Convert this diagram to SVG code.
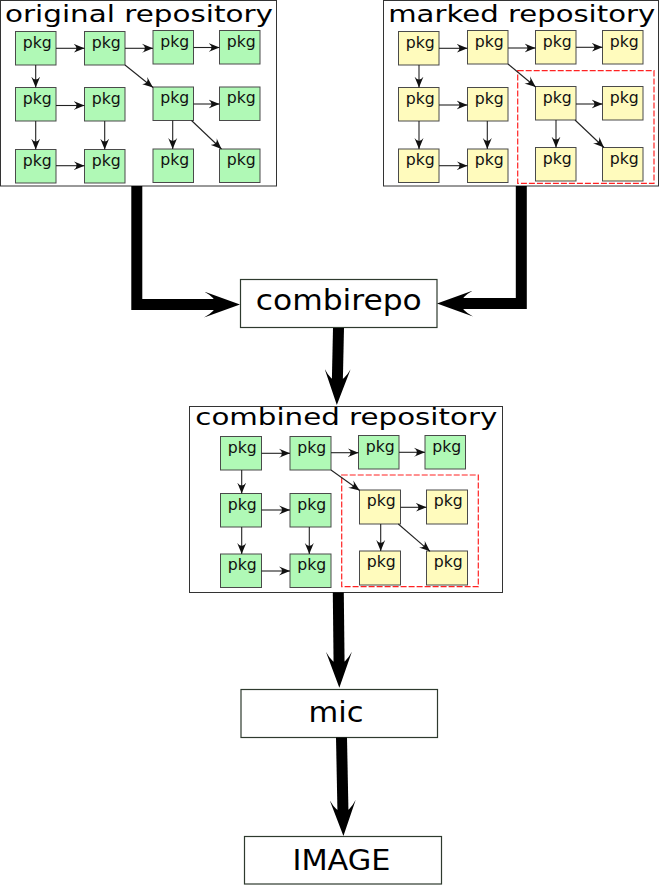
<svg xmlns="http://www.w3.org/2000/svg" width="660" height="885" viewBox="0 0 660 885">
<defs>
<style>
.repo{fill:#fff;stroke:#333;stroke-width:1}
.box{fill:#fff;stroke:#2e3a2e;stroke-width:1.2}
.pg{fill:#b0f9b6;stroke:#4a4a4a;stroke-width:1}
.py{fill:#fffbbd;stroke:#4a4a4a;stroke-width:1}
text{font-family:"DejaVu Sans","Liberation Sans",sans-serif;fill:#000;text-anchor:middle}
.pt{font-size:15px;fill:#111}
.title{font-size:23px}
.big{font-size:28px}
.edge{fill:none;stroke:#222;stroke-width:1.1;marker-end:url(#sm)}
.flow{fill:none;stroke:#000;stroke-width:11;marker-end:url(#bg)}
.mark{fill:none;stroke:#f22;stroke-width:1.2;stroke-dasharray:6 2}
</style>
<marker id="sm" viewBox="0 -5 11 10" markerWidth="11" markerHeight="10" refX="11" refY="0" orient="auto" markerUnits="userSpaceOnUse">
<path d="M0,-4.5 L11,0 L0,4.5 Q6,0 0,-4.5 Z" fill="#111"/>
</marker>
<marker id="bg" viewBox="0 -13 36 26" markerWidth="36" markerHeight="26" refX="14" refY="0" orient="auto" markerUnits="userSpaceOnUse">
<path d="M0,-13 L36,0 L0,13 Q24,0 0,-13 Z" fill="#000"/>
</marker>
</defs>

<g id="original-repository">
<rect class="repo" x="0.5" y="0.5" width="276" height="185.5"/>
<text class="title" x="139" y="21.5" textLength="268" lengthAdjust="spacingAndGlyphs">original repository</text>
<g id="o11"><rect class="pg" x="15.5" y="31.5" width="40.5" height="33.5"/><text class="pt" x="37.3" y="47.5" textLength="29" lengthAdjust="spacingAndGlyphs">pkg</text></g>
<g id="o12"><rect class="pg" x="84.5" y="31.5" width="40.5" height="33.5"/><text class="pt" x="106.3" y="47.5" textLength="29" lengthAdjust="spacingAndGlyphs">pkg</text></g>
<g id="o13"><rect class="pg" x="153" y="30.5" width="40.5" height="33.5"/><text class="pt" x="174.8" y="46.5" textLength="29" lengthAdjust="spacingAndGlyphs">pkg</text></g>
<g id="o14"><rect class="pg" x="219.5" y="30.5" width="40.5" height="33.5"/><text class="pt" x="241.3" y="46.5" textLength="29" lengthAdjust="spacingAndGlyphs">pkg</text></g>
<g id="o21"><rect class="pg" x="15.5" y="87.5" width="40.5" height="33.5"/><text class="pt" x="37.3" y="103.5" textLength="29" lengthAdjust="spacingAndGlyphs">pkg</text></g>
<g id="o22"><rect class="pg" x="84.5" y="87.5" width="40.5" height="33.5"/><text class="pt" x="106.3" y="103.5" textLength="29" lengthAdjust="spacingAndGlyphs">pkg</text></g>
<g id="o23"><rect class="pg" x="153" y="87" width="40.5" height="33.5"/><text class="pt" x="174.8" y="103" textLength="29" lengthAdjust="spacingAndGlyphs">pkg</text></g>
<g id="o24"><rect class="pg" x="219.5" y="87" width="40.5" height="33.5"/><text class="pt" x="241.3" y="103" textLength="29" lengthAdjust="spacingAndGlyphs">pkg</text></g>
<g id="o31"><rect class="pg" x="15.5" y="149.5" width="40.5" height="33.5"/><text class="pt" x="37.3" y="165.5" textLength="29" lengthAdjust="spacingAndGlyphs">pkg</text></g>
<g id="o32"><rect class="pg" x="84.5" y="149.5" width="40.5" height="33.5"/><text class="pt" x="106.3" y="165.5" textLength="29" lengthAdjust="spacingAndGlyphs">pkg</text></g>
<g id="o33"><rect class="pg" x="153" y="149" width="40.5" height="33.5"/><text class="pt" x="174.8" y="165" textLength="29" lengthAdjust="spacingAndGlyphs">pkg</text></g>
<g id="o34"><rect class="pg" x="219.5" y="149" width="40.5" height="33.5"/><text class="pt" x="241.3" y="165" textLength="29" lengthAdjust="spacingAndGlyphs">pkg</text></g>
</g>

<g id="marked-repository">
<rect class="repo" x="383.5" y="0.5" width="275" height="185.5"/>
<text class="title" x="521.7" y="21.5" textLength="267" lengthAdjust="spacingAndGlyphs">marked repository</text>
<rect id="marked-selection" class="mark" x="517.7" y="70.7" width="136.3" height="112.6"/>
<g id="m11"><rect class="py" x="398.5" y="31.5" width="40.5" height="33.5"/><text class="pt" x="420.3" y="47.5" textLength="29" lengthAdjust="spacingAndGlyphs">pkg</text></g>
<g id="m12"><rect class="py" x="467.5" y="30.5" width="40.5" height="33.5"/><text class="pt" x="489.3" y="46.5" textLength="29" lengthAdjust="spacingAndGlyphs">pkg</text></g>
<g id="m13"><rect class="py" x="535.5" y="30.5" width="40.5" height="33.5"/><text class="pt" x="557.3" y="46.5" textLength="29" lengthAdjust="spacingAndGlyphs">pkg</text></g>
<g id="m14"><rect class="py" x="602.5" y="30.5" width="40.5" height="33.5"/><text class="pt" x="624.3" y="46.5" textLength="29" lengthAdjust="spacingAndGlyphs">pkg</text></g>
<g id="m21"><rect class="py" x="398.5" y="87.5" width="40.5" height="33.5"/><text class="pt" x="420.3" y="103.5" textLength="29" lengthAdjust="spacingAndGlyphs">pkg</text></g>
<g id="m22"><rect class="py" x="467.5" y="87.5" width="40.5" height="33.5"/><text class="pt" x="489.3" y="103.5" textLength="29" lengthAdjust="spacingAndGlyphs">pkg</text></g>
<g id="m23"><rect class="py" x="535.5" y="86.5" width="40.5" height="33.5"/><text class="pt" x="557.3" y="102.5" textLength="29" lengthAdjust="spacingAndGlyphs">pkg</text></g>
<g id="m24"><rect class="py" x="602.5" y="86.5" width="40.5" height="33.5"/><text class="pt" x="624.3" y="102.5" textLength="29" lengthAdjust="spacingAndGlyphs">pkg</text></g>
<g id="m31"><rect class="py" x="398.5" y="149" width="40.5" height="33.5"/><text class="pt" x="420.3" y="165" textLength="29" lengthAdjust="spacingAndGlyphs">pkg</text></g>
<g id="m32"><rect class="py" x="467.5" y="149" width="40.5" height="33.5"/><text class="pt" x="489.3" y="165" textLength="29" lengthAdjust="spacingAndGlyphs">pkg</text></g>
<g id="m33"><rect class="py" x="535.5" y="147.5" width="40.5" height="33.5"/><text class="pt" x="557.3" y="163.5" textLength="29" lengthAdjust="spacingAndGlyphs">pkg</text></g>
<g id="m34"><rect class="py" x="602.5" y="147.5" width="40.5" height="33.5"/><text class="pt" x="624.3" y="163.5" textLength="29" lengthAdjust="spacingAndGlyphs">pkg</text></g>
</g>

<g id="combirepo">
<rect class="box" x="240.5" y="279.5" width="196.5" height="48"/>
<text class="big" x="338.8" y="310" textLength="166" lengthAdjust="spacingAndGlyphs">combirepo</text>
</g>

<g id="combined-repository">
<rect class="repo" x="189.5" y="406.5" width="313" height="186"/>
<text class="title" x="346.3" y="425" textLength="302" lengthAdjust="spacingAndGlyphs">combined repository</text>
<rect id="combined-selection" class="mark" x="341.7" y="475" width="136.6" height="111.7"/>
<g id="c11"><rect class="pg" x="220.5" y="436.5" width="41" height="33.5"/><text class="pt" x="242.3" y="452.5" textLength="29" lengthAdjust="spacingAndGlyphs">pkg</text></g>
<g id="c12"><rect class="pg" x="290" y="436.5" width="41" height="33.5"/><text class="pt" x="311.8" y="452.5" textLength="29" lengthAdjust="spacingAndGlyphs">pkg</text></g>
<g id="c13"><rect class="pg" x="358.5" y="435.5" width="40.5" height="33.5"/><text class="pt" x="380.3" y="451.5" textLength="29" lengthAdjust="spacingAndGlyphs">pkg</text></g>
<g id="c14"><rect class="pg" x="425" y="435.5" width="40.5" height="33.5"/><text class="pt" x="446.8" y="451.5" textLength="29" lengthAdjust="spacingAndGlyphs">pkg</text></g>
<g id="c21"><rect class="pg" x="220.5" y="493.5" width="41" height="33.5"/><text class="pt" x="242.3" y="509.5" textLength="29" lengthAdjust="spacingAndGlyphs">pkg</text></g>
<g id="c22"><rect class="pg" x="290" y="493.5" width="41" height="33.5"/><text class="pt" x="311.8" y="509.5" textLength="29" lengthAdjust="spacingAndGlyphs">pkg</text></g>
<g id="c23"><rect class="py" x="359.5" y="490" width="41" height="34"/><text class="pt" x="381.3" y="506" textLength="29" lengthAdjust="spacingAndGlyphs">pkg</text></g>
<g id="c24"><rect class="py" x="426.5" y="490" width="41" height="34"/><text class="pt" x="448.3" y="506" textLength="29" lengthAdjust="spacingAndGlyphs">pkg</text></g>
<g id="c31"><rect class="pg" x="220.5" y="554" width="41" height="33.5"/><text class="pt" x="242.3" y="570" textLength="29" lengthAdjust="spacingAndGlyphs">pkg</text></g>
<g id="c32"><rect class="pg" x="290" y="554" width="41" height="33.5"/><text class="pt" x="311.8" y="570" textLength="29" lengthAdjust="spacingAndGlyphs">pkg</text></g>
<g id="c33"><rect class="py" x="359.5" y="551" width="41" height="34"/><text class="pt" x="381.3" y="567" textLength="29" lengthAdjust="spacingAndGlyphs">pkg</text></g>
<g id="c34"><rect class="py" x="426.5" y="551" width="41" height="34"/><text class="pt" x="448.3" y="567" textLength="29" lengthAdjust="spacingAndGlyphs">pkg</text></g>
</g>

<g id="mic">
<rect class="box" x="241" y="689.5" width="196.5" height="48"/>
<text class="big" x="336" y="721.5" textLength="55" lengthAdjust="spacingAndGlyphs">mic</text>
</g>

<g id="image">
<rect class="box" x="244.5" y="836.5" width="197" height="47.5"/>
<text class="big" x="341.5" y="869.5" textLength="98" lengthAdjust="spacingAndGlyphs">IMAGE</text>
</g>

<g id="connectors">
<g id="original-edges">
<path class="edge" d="M56,48.3 H84.5"/>
<path class="edge" d="M125,48.3 H153"/>
<path class="edge" d="M193.5,47.5 H219.5"/>
<path class="edge" d="M35.7,65 V87.5"/>
<path class="edge" d="M125,65 L153,87.5"/>
<path class="edge" d="M56,105.5 H84.5"/>
<path class="edge" d="M35.7,121 V149.5"/>
<path class="edge" d="M104.7,121 V149.5"/>
<path class="edge" d="M56,165.7 H84.5"/>
<path class="edge" d="M193.5,104 H219.5"/>
<path class="edge" d="M172.7,120.5 V149"/>
<path class="edge" d="M191.5,120.5 L221.5,149"/>
</g>
<g id="marked-edges">
<path class="edge" d="M439,48.3 H467.5"/>
<path class="edge" d="M508,48 H535.5"/>
<path class="edge" d="M576,47.3 H602.5"/>
<path class="edge" d="M419,65 V87.5"/>
<path class="edge" d="M508,64 L535.7,87"/>
<path class="edge" d="M439,105 H467.5"/>
<path class="edge" d="M419,121 V149"/>
<path class="edge" d="M487.3,121 V149"/>
<path class="edge" d="M439,165.7 H467.5"/>
<path class="edge" d="M576,104 H602.5"/>
<path class="edge" d="M556,120 V147.5"/>
<path class="edge" d="M575,120 L604,147.5"/>
</g>
<g id="combined-edges">
<path class="edge" d="M261.5,453.3 H290"/>
<path class="edge" d="M331,452.7 H358.5"/>
<path class="edge" d="M399,452.3 H425"/>
<path class="edge" d="M241.7,470 V493.5"/>
<path class="edge" d="M331,470 L359.7,490.5"/>
<path class="edge" d="M261.5,510 H290"/>
<path class="edge" d="M241.7,527 V554"/>
<path class="edge" d="M309.3,527 V554"/>
<path class="edge" d="M261.5,571 H290"/>
<path class="edge" d="M400.5,507.3 H426.5"/>
<path class="edge" d="M380.7,524 V551"/>
<path class="edge" d="M398.3,524 L430,551.3"/>
</g>
<g id="flow">
<path class="flow" d="M136.8,186 V304.5 H218"/>
<path class="flow" d="M521.3,186 V303.5 H459"/>
<path class="flow" d="M338.5,328 L337.3,383"/>
<path class="flow" d="M338.3,592.5 L339.1,665.7"/>
<path class="flow" d="M341.5,737.5 L343,814"/>
</g>
</g>
</svg>
